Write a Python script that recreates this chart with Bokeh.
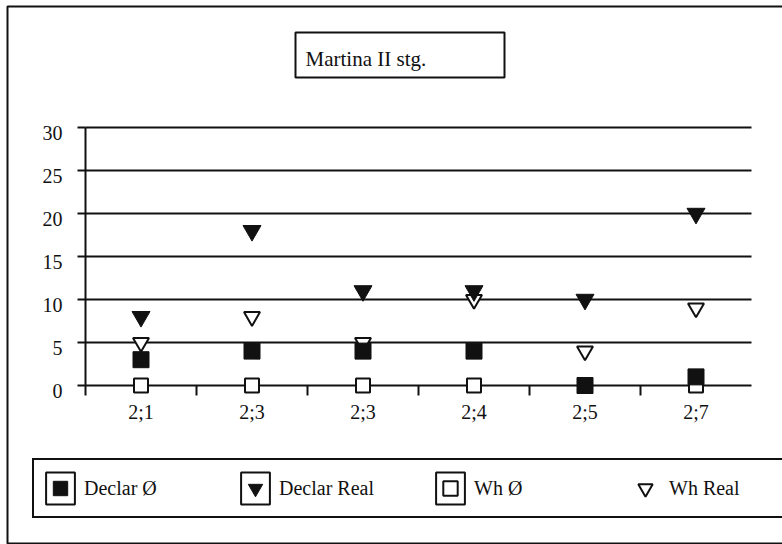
from bokeh.plotting import figure
from bokeh.models import (Range1d, ColumnDataSource, Legend, LegendItem,
                          BoxAnnotation, Label)
from bokeh.core.properties import value
from bokeh.embed import file_html
from bokeh.resources import INLINE

# Age points (year;month) and counts per series
categories = ["2;1", "2;3", "2;3", "2;4", "2;5", "2;7"]
declar_null = [3, 4, 4, 4, 0, 1]
declar_real = [8, 18, 11, 11, 10, 20]
wh_null = [0, 0, 0, 0, 0, 0]
wh_real = [5, 8, 5, 10, 4, 9]
y_ticks = [0, 5, 10, 15, 20, 25, 30]
title_text = "Martina II stg."
legend_labels = ["Declar Ø", "Declar Real", "Wh Ø", "Wh Real"]

FONT = "Liberation Serif"
INK = "#111111"
W, H = 782, 544

# pixel geometry of the plotting area on the page
AREA_LEFT, AREA_RIGHT, AREA_TOP, ZERO_Y = 85, 751, 127, 385

n = len(categories)
xpos = [i + 0.5 for i in range(n)]
bounds = list(range(n))
ymax = y_ticks[-1]

ux = (AREA_RIGHT - AREA_LEFT) / n          # px per category
uy = (ZERO_Y - AREA_TOP) / ymax            # px per unit

p = figure(width=W, height=H,
           x_range=Range1d(-AREA_LEFT / ux, n + (W - AREA_RIGHT) / ux),
           y_range=Range1d(-(H - ZERO_Y) / uy, ymax + AREA_TOP / uy),
           x_axis_location=None, y_axis_location=None,
           output_backend="svg", toolbar_location=None, min_border=0)
p.outline_line_color = None
p.background_fill_color = "white"
p.border_fill_color = "white"
p.xgrid.visible = False
p.ygrid.visible = False

# horizontal grid lines (the one at zero is the category axis line)
p.segment(x0=0, x1=n, y0=y_ticks, y1=y_ticks, line_color=INK, line_width=2)

# value axis line, ticks and labels
p.segment(x0=[0], x1=[0], y0=[0], y1=[ymax], line_color=INK, line_width=2)
p.segment(x0=-8 / ux, x1=0, y0=y_ticks, y1=y_ticks, line_color=INK, line_width=2)
p.text(x=0, y=y_ticks, text=[str(t) for t in y_ticks],
       x_offset=-23, y_offset=5, text_align="right", text_baseline="alphabetic",
       text_font=value(FONT), text_font_size="20px", text_color=INK)

# category ticks between the groups, labels under each group
p.segment(x0=bounds, x1=bounds, y0=0, y1=-10 / uy, line_color=INK, line_width=2)
p.text(x=xpos, y=0, text=categories, y_offset=26,
       text_align="center", text_baseline="alphabetic",
       text_font=value(FONT), text_font_size="20px", text_color=INK)

src_dn = ColumnDataSource(dict(x=xpos, y=declar_null))
src_dr = ColumnDataSource(dict(x=xpos, y=declar_real))
src_wn = ColumnDataSource(dict(x=xpos, y=wh_null))
src_wr = ColumnDataSource(dict(x=xpos, y=wh_real))

r_wn = p.scatter("x", "y", source=src_wn, marker="square", size=14,
                 fill_color="white", line_color=INK, line_width=2)
r_wr = p.scatter("x", "y", source=src_wr, marker="inverted_triangle", size=16,
                 fill_color="white", line_color=INK, line_width=2)
r_dr = p.scatter("x", "y", source=src_dr, marker="inverted_triangle", size=18,
                 fill_color=INK, line_color=INK, line_width=1)
r_dn = p.scatter("x", "y", source=src_dn, marker="square", size=16,
                 fill_color=INK, line_color=INK, line_width=1)

# framed legend keys (hidden in the plot, drawn only inside the legend)
def key_frame(src):
    return p.rect("x", "y", width=1, height=1, source=src, fill_color="white",
                  line_color=INK, line_width=2, visible=False)

f_dn = key_frame(src_dn)
f_dr = key_frame(src_dr)
f_wn = key_frame(src_wn)

legend = Legend(items=[
    LegendItem(label=legend_labels[0], renderers=[f_dn, r_dn]),
    LegendItem(label=legend_labels[1], renderers=[f_dr, r_dr]),
    LegendItem(label=legend_labels[2], renderers=[f_wn, r_wn]),
    LegendItem(label=legend_labels[3], renderers=[r_wr]),
], orientation="horizontal", location=(32, H - 518),
    glyph_width=36, glyph_height=40, label_standoff=6, label_width=153,
    spacing=0, padding=8, border_line_color=INK, border_line_width=2,
    border_line_alpha=1,
    background_fill_color="white", background_fill_alpha=1,
    label_text_font=FONT, label_text_font_size="20px", label_text_color=INK)
p.add_layout(legend)

# outer chart border
p.add_layout(BoxAnnotation(left=7, right=W + 20, top=H - 6, bottom=H - 543,
                           left_units="screen", right_units="screen",
                           top_units="screen", bottom_units="screen",
                           fill_alpha=0, line_color=INK, line_alpha=1,
                           line_width=2))

# boxed title
p.add_layout(BoxAnnotation(left=295, right=504, top=H - 32, bottom=H - 77,
                           left_units="screen", right_units="screen",
                           top_units="screen", bottom_units="screen",
                           fill_color="white", fill_alpha=1,
                           line_color=INK, line_alpha=1, line_width=2))
p.add_layout(Label(x=305, y=H - 58, x_units="screen", y_units="screen",
                   text=title_text, text_baseline="middle",
                   text_font=FONT, text_font_size="21px", text_color=INK))

open("out.html", "w").write(file_html(p, INLINE))
